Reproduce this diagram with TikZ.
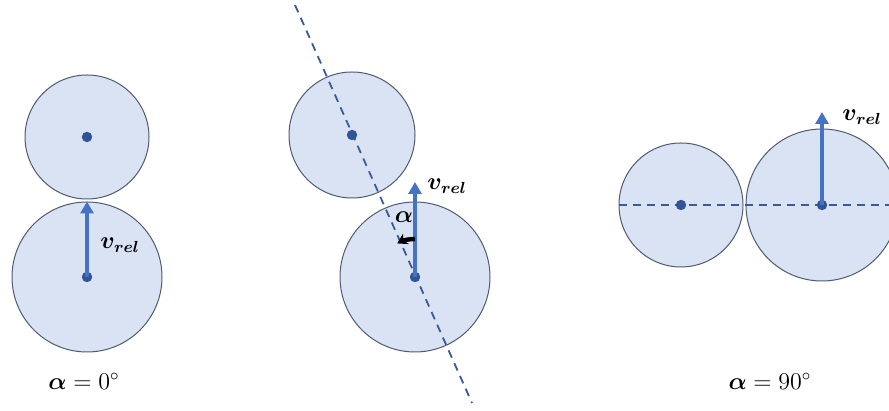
\documentclass[tikz,border=0pt]{standalone}
\usepackage{bm}
\usetikzlibrary{arrows.meta}
\definecolor{ballfill}{HTML}{DAE3F3}
\definecolor{balledge}{HTML}{4F5B70}
\definecolor{dotblue}{HTML}{2F5597}
\definecolor{velblue}{HTML}{4472C4}
\definecolor{axblue}{HTML}{3B5A9A}

\begin{document}
\begin{tikzpicture}[x=0.5pt,y=0.5pt,
  ball/.style={circle,draw=balledge,fill=ballfill,line width=0.5pt,inner sep=0pt},
  vel/.style={velblue,line width=2pt,-{Triangle[length=6pt,width=6.5pt]}},
  axis/.style={axblue,line width=0.9pt,dash pattern=on 4pt off 3pt},
  lbl/.style={font=\fontsize{12}{14}\selectfont,inner sep=1pt}]
  \clip (0,0) rectangle (889,411);
  % alpha = 0
  \node[ball,minimum size=62pt] (pA) at (87,274) {};
  \node[ball,minimum size=75pt] (qA) at (87,134) {};
  % alpha between
  \node[ball,minimum size=63pt] (pB) at (352,276) {};
  \node[ball,minimum size=75pt] (qB) at (415,134) {};
  \coordinate (topB) at (295,406);
  \coordinate (botB) at (472,8);
  \draw[axis] (topB) -- (botB);
  % alpha = 90
  \node[ball,minimum size=62pt] (pC) at (681,206) {};
  \node[ball,minimum size=76pt] (qC) at (822,206) {};
  \coordinate (endC) at (889,206);
  \draw[axis] (pC.west) -- (endC);
  \foreach \b in {pA,qA,pB,qB,pC,qC} \fill[dotblue] (\b.center) circle (2.6pt);
  % velocities
  \coordinate (tipB) at (415,229);
  \coordinate (tipC) at (822,299);
  \draw[vel] (qA.center) -- (qA.north);
  \draw[vel] (qB.center) -- (tipB);
  \draw[vel] (qC.center) -- (tipC);
  \draw[line width=2.2pt,-{Stealth[length=5pt,width=6pt]}] (qB.center) ++(90:19pt) arc[start angle=90,end angle=118,radius=19pt];
  \node[lbl,right] (vA) at (98,166) {$\bm{v_{rel}}$};
  \node[lbl,right] (vB) at (425,225) {$\bm{v_{rel}}$};
  \node[lbl,right] (vC) at (840,294) {$\bm{v_{rel}}$};
  \node[lbl] (aB) at (404,194) {$\bm{\alpha}$};
  \node[lbl] (aA) at (84,30) {$\bm{\alpha}=0^\circ$};
  \node[lbl] (aC) at (770,30) {$\bm{\alpha}=90^\circ$};
\end{tikzpicture}
\end{document}
